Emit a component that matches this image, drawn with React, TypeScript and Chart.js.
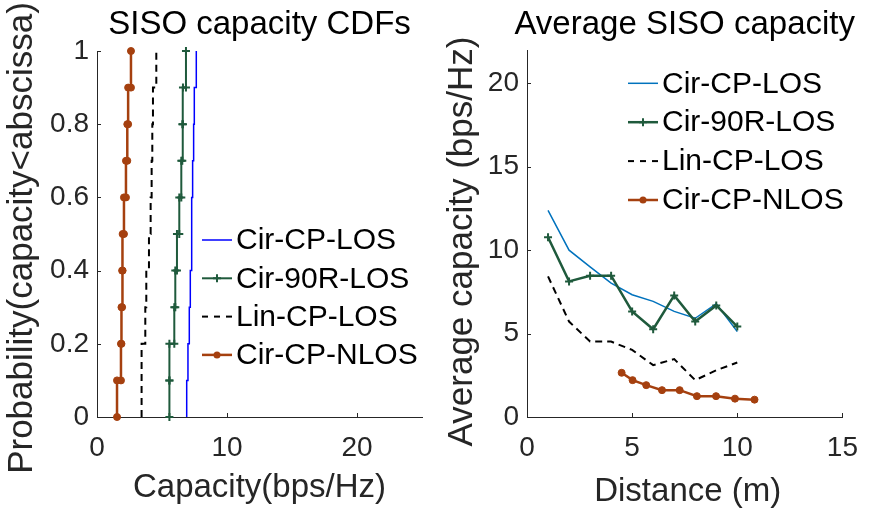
import React, { useEffect, useRef } from 'react';
import { Chart, registerables } from 'chart.js';

Chart.register(...registerables);

const FONT = "'Liberation Sans', Arial, Helvetica, sans-serif";
const AXIS_COLOR = '#262626';

// ---------- shared series labels ----------
const seriesLabels = ['Cir-CP-LOS', 'Cir-90R-LOS', 'Lin-CP-LOS', 'Cir-CP-NLOS'];

// ---------- left panel: CDF samples (bps/Hz) ----------
const cdfCirCpLos = [6.9, 6.997, 7.1, 7.177, 7.241, 7.305, 7.356, 7.433, 7.485, 7.638];
const cdfCir90rLos = [5.57, 5.57, 5.946, 6.023, 6.151, 6.33, 6.485, 6.562, 6.613, 6.844];
const cdfLinCpLos = [3.43, 3.43, 3.715, 3.792, 3.997, 4.126, 4.203, 4.254, 4.305, 4.562];
const cdfCirCpNlos = [1.54, 1.844, 1.882, 1.933, 1.972, 2.074, 2.228, 2.33, 2.395, 2.613];
const cdfXTicks = [0, 10, 20];
const cdfYTicks = [0, 0.2, 0.4, 0.6, 0.8, 1];

// ---------- right panel: average capacity vs distance ----------
const distances = [1, 2, 3, 4, 5, 6, 7, 8, 9, 10];
const avgCirCpLos = [12.39, 10.0, 9.0, 8.03, 7.33, 6.93, 6.33, 5.92, 6.79, 5.12];
const avgCir90rLos = [10.78, 8.13, 8.47, 8.47, 6.33, 5.26, 7.29, 5.72, 6.69, 5.42];
const avgLinCpLos = [8.43, 5.72, 4.52, 4.52, 4.02, 3.11, 3.47, 2.21, 2.8, 3.27];
const nlosDistances = [4.5, 5.02, 5.67, 6.42, 7.26, 8.08, 8.99, 9.89, 10.82];
const avgCirCpNlos = [2.65, 2.21, 1.91, 1.61, 1.61, 1.25, 1.25, 1.1, 1.04];
const avgXTicks = [0, 5, 10, 15];
const avgYTicks = [0, 5, 10, 15, 20];

const BLUE_LEFT = '#0000FF';
const BLUE_RIGHT = '#0072BD';
const GREEN = '#1F5A3C';
const ORANGE = '#A5400F';
const BLACK = '#000000';

function cdfStairs(samples: number[]) {
  const s = [...samples].sort((a, b) => a - b);
  const n = s.length;
  const pts: { x: number; y: number }[] = [{ x: s[0], y: 0 }];
  for (let i = 0; i < n; i++) {
    pts.push({ x: s[i], y: (i + 1) / n });
    if (i < n - 1) pts.push({ x: s[i + 1], y: (i + 1) / n });
  }
  return pts;
}

function zipXY(xs: number[], ys: number[]) {
  return xs.map((x, i) => ({ x, y: ys[i] }));
}

const extrasPlugin = {
  id: 'extras',
  afterDraw(chart: any, _args: any, opts: any) {
    const ctx: CanvasRenderingContext2D = chart.ctx;
    const ca = chart.chartArea;
    const xs = chart.scales.x;
    const ys = chart.scales.y;
    ctx.save();
    // inward tick marks
    ctx.strokeStyle = AXIS_COLOR;
    ctx.lineWidth = 1;
    xs.ticks.forEach((t: any) => {
      if (t.value === xs.min) return;
      const px = Math.round(xs.getPixelForValue(t.value)) + 0.5;
      ctx.beginPath();
      ctx.moveTo(px, ca.bottom);
      ctx.lineTo(px, ca.bottom - 4);
      ctx.stroke();
    });
    ys.ticks.forEach((t: any) => {
      if (t.value === ys.min) return;
      const py = Math.round(ys.getPixelForValue(t.value)) + 0.5;
      ctx.beginPath();
      ctx.moveTo(ca.left, py);
      ctx.lineTo(ca.left + 4, py);
      ctx.stroke();
    });
    const cx = (ca.left + ca.right) / 2;
    // title
    ctx.fillStyle = '#000';
    ctx.font = `33px ${FONT}`;
    ctx.textAlign = 'center';
    ctx.textBaseline = 'alphabetic';
    ctx.fillText(opts.title, cx, opts.titleY);
    // x label
    ctx.fillStyle = AXIS_COLOR;
    ctx.fillText(opts.xLabel, cx + (opts.xLabelShift || 0), opts.xLabelY);
    // y label
    ctx.save();
    ctx.translate(opts.yLabelX, (ca.top + ca.bottom) / 2 + (opts.yLabelShift || 0));
    ctx.rotate(-Math.PI / 2);
    ctx.textBaseline = 'middle';
    ctx.font = `${opts.yLabelSize}px ${FONT}`;
    ctx.fillText(opts.yLabel, 0, 0);
    ctx.restore();
    // legend
    ctx.font = `30px ${FONT}`;
    ctx.textAlign = 'left';
    ctx.textBaseline = 'middle';
    chart.data.datasets.forEach((ds: any, i: number) => {
      const y = opts.legendY + i * opts.legendDy;
      const x0 = opts.legendX;
      const x1 = x0 + 30;
      ctx.save();
      ctx.strokeStyle = ds.borderColor;
      ctx.lineWidth = ds.borderWidth;
      ctx.setLineDash(ds.borderDash ? [6, 6] : []);
      ctx.beginPath();
      ctx.moveTo(x0, y);
      ctx.lineTo(x1, y);
      ctx.stroke();
      ctx.setLineDash([]);
      const mx = (x0 + x1) / 2;
      if (ds.pointStyle === 'circle' && ds.pointRadius > 0) {
        ctx.fillStyle = ds.pointBackgroundColor;
        ctx.beginPath();
        ctx.arc(mx, y, ds.pointRadius, 0, Math.PI * 2);
        ctx.fill();
      } else if (ds.pointStyle === 'cross' && ds.pointRadius > 0) {
        ctx.strokeStyle = ds.pointBorderColor;
        ctx.lineWidth = ds.pointBorderWidth;
        const r = ds.pointRadius;
        ctx.beginPath();
        ctx.moveTo(mx - r, y);
        ctx.lineTo(mx + r, y);
        ctx.moveTo(mx, y - r);
        ctx.lineTo(mx, y + r);
        ctx.stroke();
      }
      ctx.restore();
      ctx.fillStyle = '#000';
      ctx.fillText(seriesLabels[i], x1 + 4, y + 1);
    });
    ctx.restore();
  },
};

function makeScales(
  xMax: number,
  yMax: number,
  xTicks: number[],
  yTicks: number[],
  yWidth: number,
) {
  const tickFont = { size: 28, family: FONT };
  return {
    x: {
      type: 'linear',
      min: 0,
      max: xMax,
      position: 'bottom',
      grid: { display: true, drawOnChartArea: false, drawTicks: false },
      border: { display: true, color: AXIS_COLOR, width: 1 },
      ticks: {
        font: tickFont,
        color: AXIS_COLOR,
        padding: 14,
        maxRotation: 0,
        autoSkip: false,
        callback: (v: number) => String(v),
      },
      afterBuildTicks: (s: any) => {
        s.ticks = xTicks.map((v) => ({ value: v }));
      },
      afterFit: (s: any) => {
        s.height = 91;
      },
    },
    y: {
      type: 'linear',
      min: 0,
      max: yMax,
      grid: { display: true, drawOnChartArea: false, drawTicks: false },
      border: { display: true, color: AXIS_COLOR, width: 1 },
      ticks: {
        font: tickFont,
        color: AXIS_COLOR,
        padding: 8,
        autoSkip: false,
        callback: (v: number) => String(v),
      },
      afterBuildTicks: (s: any) => {
        s.ticks = yTicks.map((v) => ({ value: v }));
      },
      afterFit: (s: any) => {
        s.width = yWidth;
      },
    },
  };
}

function lineDs(label: string, data: any[], color: string, width: number, extra: any = {}) {
  return {
    label,
    data,
    borderColor: color,
    backgroundColor: color,
    borderWidth: width,
    pointRadius: 0,
    pointStyle: 'circle',
    pointBackgroundColor: color,
    pointBorderColor: color,
    pointBorderWidth: 1,
    fill: false,
    tension: 0,
    clip: false,
    ...extra,
  };
}

function useChart(ref: React.RefObject<HTMLCanvasElement | null>, build: () => any) {
  useEffect(() => {
    if (!ref.current) return;
    const chart = new Chart(ref.current, build());
    return () => chart.destroy();
  }, []);
}

export default function App() {
  const leftRef = useRef<HTMLCanvasElement>(null);
  const rightRef = useRef<HTMLCanvasElement>(null);

  useChart(leftRef, () => ({
    type: 'line',
    data: {
      datasets: [
        lineDs(seriesLabels[0], cdfStairs(cdfCirCpLos), BLUE_LEFT, 1.5, { order: 3 }),
        lineDs(seriesLabels[1], cdfStairs(cdfCir90rLos), GREEN, 2, {
          order: 2,
          pointRadius: 4,
          pointStyle: 'cross',
          pointBorderWidth: 2,
        }),
        lineDs(seriesLabels[2], cdfStairs(cdfLinCpLos), BLACK, 2, { order: 1, borderDash: [7, 5] }),
        lineDs(seriesLabels[3], cdfStairs(cdfCirCpNlos), ORANGE, 2.5, {
          order: 0,
          pointRadius: 3.5,
          pointStyle: 'circle',
        }),
      ],
    },
    options: {
      responsive: false,
      animation: false,
      events: [],
      layout: { padding: { top: 51, right: 14, left: 0, bottom: 0 } },
      scales: makeScales(25, 1, cdfXTicks, cdfYTicks, 97),
      plugins: {
        legend: { display: false },
        tooltip: { enabled: false },
        title: { display: false },
        extras: {
          title: 'SISO capacity CDFs',
          titleY: 34,
          xLabel: 'Capacity(bps/Hz)',
          xLabelY: 497,
          yLabel: 'Probability(capacity<abscissa)',
          yLabelX: 22,
          yLabelSize: 35,
          yLabelShift: 4,
          legendX: 202,
          legendY: 240,
          legendDy: 38.3,
        },
      },
    },
    plugins: [extrasPlugin],
  }));

  useChart(rightRef, () => ({
    type: 'line',
    data: {
      datasets: [
        lineDs(seriesLabels[0], zipXY(distances, avgCirCpLos), BLUE_RIGHT, 1.5, { order: 3 }),
        lineDs(seriesLabels[1], zipXY(distances, avgCir90rLos), GREEN, 2.5, {
          order: 2,
          pointRadius: 4,
          pointStyle: 'cross',
          pointBorderWidth: 2,
        }),
        lineDs(seriesLabels[2], zipXY(distances, avgLinCpLos), BLACK, 2, { order: 1, borderDash: [7, 5] }),
        lineDs(seriesLabels[3], zipXY(nlosDistances, avgCirCpNlos), ORANGE, 2.5, {
          order: 0,
          pointRadius: 3.5,
          pointStyle: 'circle',
        }),
      ],
    },
    options: {
      responsive: false,
      animation: false,
      events: [],
      layout: { padding: { top: 50, right: 21, left: 0, bottom: 0 } },
      scales: makeScales(15, 22, avgXTicks, avgYTicks, 91),
      plugins: {
        legend: { display: false },
        tooltip: { enabled: false },
        title: { display: false },
        extras: {
          title: 'Average SISO capacity',
          titleY: 34,
          xLabel: 'Distance (m)',
          xLabelY: 501,
          xLabelShift: 3,
          yLabel: 'Average capacity (bps/Hz)',
          yLabelX: 26,
          yLabelSize: 35,
          yLabelShift: 8,
          legendX: 192,
          legendY: 83.3,
          legendDy: 38.9,
        },
      },
    },
    plugins: [extrasPlugin],
  }));

  return (
    <div
      style={{
        position: 'fixed',
        left: 0,
        top: 0,
        width: 872,
        height: 508,
        background: '#fff',
        overflow: 'hidden',
      }}
    >
      <canvas
        ref={leftRef}
        width={436}
        height={508}
        style={{ position: 'absolute', left: 0, top: 0, width: 436, height: 508 }}
      />
      <canvas
        ref={rightRef}
        width={436}
        height={508}
        style={{ position: 'absolute', left: 436, top: 0, width: 436, height: 508 }}
      />
    </div>
  );
}
